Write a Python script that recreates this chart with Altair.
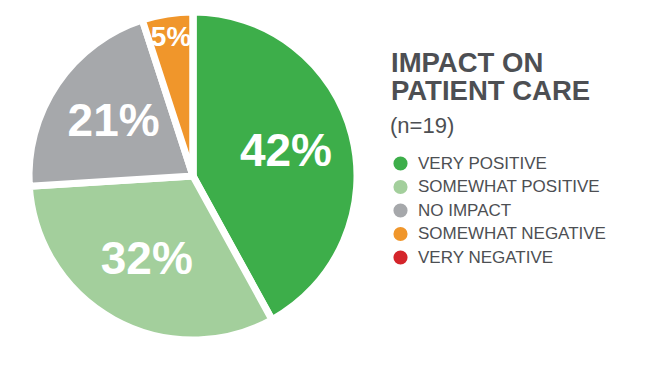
import altair as alt
import pandas as pd

categories = ["VERY POSITIVE", "SOMEWHAT POSITIVE", "NO IMPACT", "SOMEWHAT NEGATIVE", "VERY NEGATIVE"]
shares = [42, 32, 21, 5, 0]
labels = ["42%", "32%", "21%", "5%", ""]
colors = ["#3dae4a", "#a3cf9c", "#a6a8ab", "#f0962b", "#d4252b"]
title_lines = ["IMPACT ON", "PATIENT CARE"]
subtitle = "(n=19)"

TEXT = "#4d4f53"
FONT = "Liberation Sans"
CX, CY, R = 193, 176, 164

df = pd.DataFrame({
    "category": categories,
    "share": shares,
    "label": labels,
    "order": list(range(len(categories))),
})
one = pd.DataFrame({"k": [0]})

color = alt.Color(
    "category:N",
    scale=alt.Scale(domain=categories, range=colors),
    legend=alt.Legend(
        title=None, orient="none", legendX=392, legendY=155,
        symbolType="circle", symbolSize=200, symbolStrokeWidth=0,
        labelFontSize=17, labelFont=FONT, labelColor=TEXT, labelLimit=400,
        rowPadding=5.5, labelOffset=9, padding=0,
    ),
)

shadow = alt.layer(*[
    alt.Chart(one).mark_circle(color="#000000", opacity=op).encode(
        x=alt.value(CX + 4), y=alt.value(CY + 7), size=alt.value(3.14159 * r * r)
    )
    for r, op in [(177, 0.06), (175, 0.08), (173, 0.12)]
])

ring = alt.Chart(one).mark_circle(color="white", opacity=1).encode(
    x=alt.value(CX), y=alt.value(CY), size=alt.value(3.14159 * 171 * 171)
)

base = alt.Chart(df).encode(
    theta=alt.Theta("share:Q", stack=True),
    order=alt.Order("order:Q"),
    x=alt.value(CX), y=alt.value(CY),
)

arcs = base.mark_arc(radius=R, stroke="white", strokeWidth=7).encode(color=color)

big = base.mark_text(radius=96, fontSize=46, fontWeight="bold", color="white", font=FONT).encode(
    text=alt.condition("datum.share >= 10", alt.Text("label:N"), alt.value(""))
)
small = base.mark_text(radius=140, fontSize=28, fontWeight="bold", color="white", font=FONT).encode(
    text=alt.condition("datum.share < 10", alt.Text("label:N"), alt.value(""))
)

head_layers = [
    alt.Chart(one).mark_text(
        align="left", baseline="alphabetic", font=FONT, fontSize=27.5, fontWeight="bold", color=TEXT,
    ).encode(x=alt.value(391), y=alt.value(yy), text=alt.value(line))
    for line, yy in zip(title_lines, [71.5, 100])
]

sub = alt.Chart(one).mark_text(
    align="left", baseline="alphabetic", font=FONT, fontSize=22, color=TEXT,
).encode(x=alt.value(390), y=alt.value(133), text=alt.value(subtitle))

chart = alt.layer(shadow, ring, arcs, big, small, *head_layers, sub).properties(
    width=669, height=376, padding=0, autosize=alt.AutoSizeParams(type="none"),
    background="white",
).configure_view(strokeWidth=0)

chart.save("out.html", embed_options={"renderer": "svg", "actions": False})
